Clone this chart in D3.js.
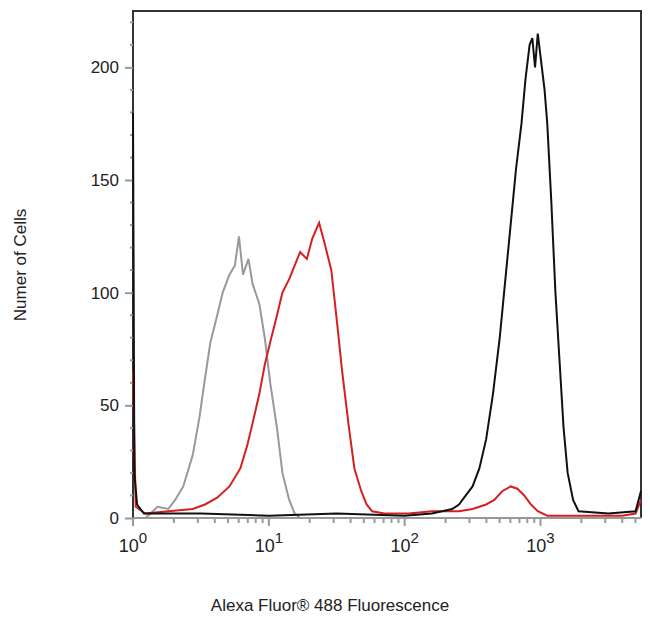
<!DOCTYPE html>
<html>
<head>
<meta charset="UTF-8">
<script src="https://d3js.org/d3.v7.min.js"></script>
<style>
    body { margin: 0; background: #fff; font-family: Arial, "Liberation Sans", sans-serif; }
</style>
</head>
<body>
<svg width="650" height="618"></svg>
<script>
// log10 position of fluorescence, cell count
const grayX  = [0.09,0.13,0.18,0.26,0.31,0.37,0.44,0.49,0.53,0.57,0.62,0.66,0.71,0.75,0.78,0.81,0.85,0.88,0.93,0.97,1.01,1.06,1.10,1.15,1.19,1.23];
const grayY  = [0,2,5,4,8,14,28,45,62,78,90,100,108,112,125,108,115,104,95,80,60,40,20,8,2,0];

const redX   = [0,0.02,0.09,0.26,0.44,0.53,0.62,0.71,0.79,0.84,0.88,0.93,0.97,1.01,1.06,1.10,1.15,1.19,1.23,1.28,1.32,1.37,1.41,1.46,1.50,1.54,1.59,1.63,1.68,1.72,1.76,1.85,2.03,2.20,2.40,2.50,2.60,2.66,2.72,2.78,2.83,2.88,2.93,2.98,3.05,3.30,3.60,3.70,3.74];
const redY   = [65,5,2,3,4,6,9,14,22,32,42,55,68,78,90,100,106,112,118,115,124,131,122,110,88,65,40,22,12,6,3,2,2,3,3,4,6,8,12,14,13,10,6,3,1,1,1,2,8];

const blackX = [0,0.01,0.03,0.08,0.50,1.00,1.50,2.00,2.20,2.35,2.40,2.45,2.50,2.55,2.60,2.65,2.70,2.74,2.78,2.82,2.86,2.89,2.92,2.94,2.96,2.98,3.00,3.03,3.05,3.08,3.11,3.14,3.17,3.20,3.24,3.28,3.50,3.70,3.74];
const blackY = [180,20,6,2,2,1,2,1,2,4,6,10,14,22,35,55,80,105,130,155,175,195,210,213,200,215,205,190,175,140,100,70,40,20,8,3,2,3,12];

const yTicks = [0,50,100,150,200];
const xDecades = [0,1,2,3];

const svg = d3.select("svg");
const x = d3.scaleLinear().domain([0, 3.74]).range([133, 641]);
const y = d3.scaleLinear().domain([0, 225]).range([518, 11]);

function series(xs, ys) { return xs.map((v, i) => [v, ys[i]]); }
const line = d3.line().x(d => x(d[0])).y(d => y(d[1]));

// frame
svg.append("path")
    .attr("d", `M${x(0)},${y(0)} V${y(225)} H${x(3.74)} V${y(0)}`)
    .attr("fill", "none").attr("stroke", "#333").attr("stroke-width", 2);
svg.append("line")
    .attr("x1", x(0)).attr("x2", x(3.74)).attr("y1", y(0)).attr("y2", y(0))
    .attr("stroke", "#999").attr("stroke-width", 2);

// y axis
const yAxis = svg.append("g").attr("transform", `translate(${x(0)},0)`)
    .call(d3.axisLeft(y).tickValues(yTicks).tickSize(8).tickPadding(6));
yAxis.select(".domain").remove();
yAxis.selectAll("line").attr("stroke", "#999").attr("stroke-width", 2);
yAxis.selectAll("text").attr("font-size", 17).attr("fill", "#222").attr("font-family", "Arial");
svg.append("g").selectAll("line")
    .data(d3.range(10, 225, 10).filter(v => v % 50))
    .join("line")
    .attr("x1", x(0) - 3).attr("x2", x(0)).attr("y1", d => y(d)).attr("y2", d => y(d))
    .attr("stroke", "#999").attr("stroke-width", 2);

// x axis: log decade ticks
const minor = [];
for (let d = 0; d <= 3; d++) for (let k = 1; k <= 9; k++) {
    const v = d + Math.log10(k);
    if (v <= 3.74) minor.push({ v, major: k === 1 });
}
svg.append("g").selectAll("line").data(minor).join("line")
    .attr("x1", d => x(d.v)).attr("x2", d => x(d.v))
    .attr("y1", y(0)).attr("y2", d => y(0) + (d.major ? 8 : 5))
    .attr("stroke", "#999").attr("stroke-width", 2);
const xl = svg.append("g").selectAll("text").data(xDecades).join("text")
    .attr("x", d => x(d)).attr("y", 552)
    .attr("text-anchor", "middle").attr("font-size", 18).attr("fill", "#222");
xl.append("tspan").text("10");
xl.append("tspan").attr("dy", -9).attr("font-size", 15).text(d => d);

// series
[[grayX, grayY, "#999"], [redX, redY, "#d42020"], [blackX, blackY, "#111"]].forEach(([xs, ys, c]) => {
    svg.append("path").datum(series(xs, ys)).attr("d", line)
        .attr("fill", "none").attr("stroke", c).attr("stroke-width", 2);
});

// labels
svg.append("text").attr("x", 330).attr("y", 611).attr("text-anchor", "middle")
    .attr("font-size", 17).attr("fill", "#222").text("Alexa Fluor® 488 Fluorescence");
svg.append("text").attr("transform", "translate(26,265) rotate(-90)").attr("text-anchor", "middle")
    .attr("font-size", 17).attr("fill", "#222").text("Numer of Cells");
</script>
</body>
</html>
